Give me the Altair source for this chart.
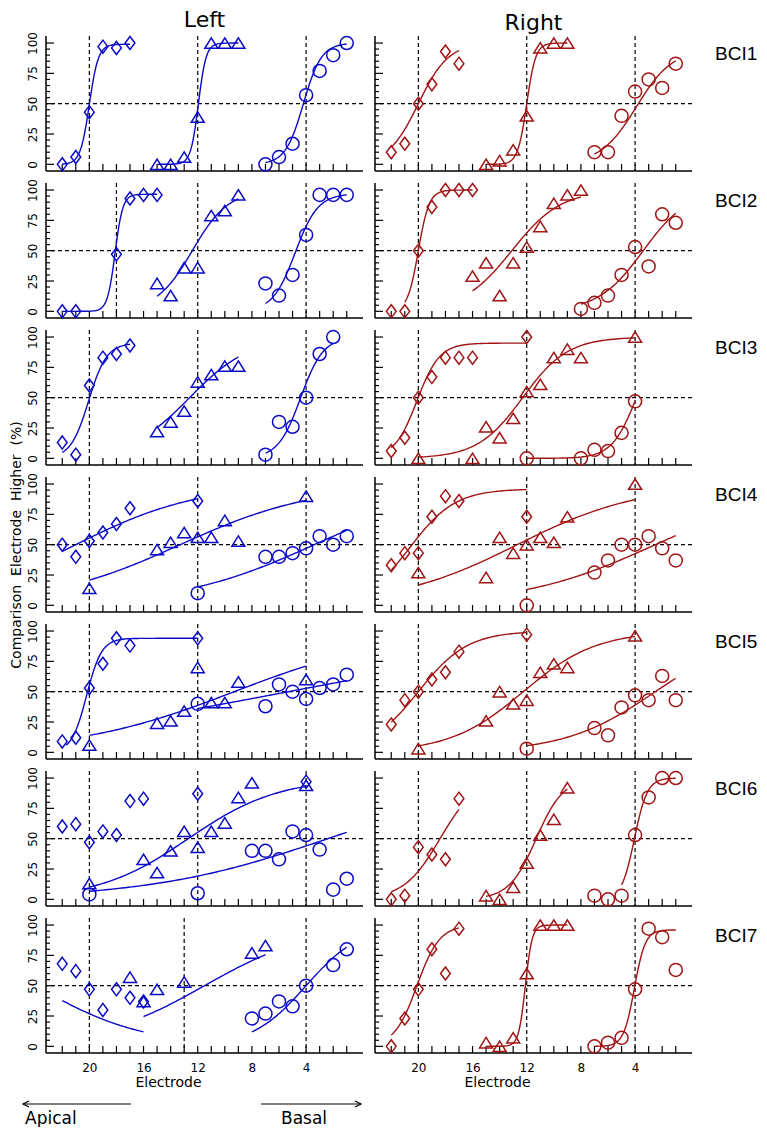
import altair as alt
import numpy as np
import pandas as pd

# ---------------- values ----------------
SUBJECTS = ["BCI1", "BCI2", "BCI3", "BCI4", "BCI5", "BCI6", "BCI7"]
SIDES = ["Left", "Right"]
X_TICKS = list(range(1, 23))
X_LABELS = [20, 16, 12, 8, 4]
Y_MINOR = [v for v in range(0, 101, 5) if v % 25]
Y_LABELS = [0, 25, 50, 75, 100]

# points: (electrode, % comparison electrode judged higher)
L1_DIA = [(22, 0), (21, 6), (20, 43), (19, 97), (18, 96), (17, 100)]
L1_TRI = [(15, 0), (14, 0), (13, 6), (12, 39), (11, 100), (10, 100), (9, 100)]
L1_CIR = [(7, 0), (6, 6), (5, 17), (4, 57), (3, 77), (2, 90), (1, 100)]
R1_DIA = [(22, 10), (21, 17), (20, 50), (19, 66), (18, 93), (17, 83)]
R1_TRI = [(15, 0), (14, 3), (13, 12), (12, 40), (11, 96), (10, 100), (9, 100)]
R1_CIR = [(7, 10), (6, 10), (5, 40), (4, 60), (3, 70), (2, 63), (1, 83)]

L2_DIA = [(22, 0), (21, 0), (18, 47), (17, 93), (16, 96), (15, 96)]
L2_TRI = [(15, 23), (14, 13), (13, 36), (12, 36), (11, 79), (10, 83), (9, 96)]
L2_CIR = [(7, 23), (6, 13), (5, 30), (4, 63), (3, 96), (2, 96), (1, 96)]
R2_DIA = [(22, 0), (21, 0), (20, 50), (19, 86), (18, 100), (17, 100), (16, 100)]
R2_TRI = [(16, 29), (15, 40), (14, 13), (13, 40), (12, 53), (11, 70), (10, 89), (9, 96), (8, 100)]
R2_CIR = [(8, 2), (7, 7), (6, 13), (5, 30), (4, 53), (3, 37), (2, 80), (1, 73)]

L3_DIA = [(22, 13), (21, 3), (20, 60), (19, 83), (18, 86), (17, 93)]
L3_TRI = [(15, 22), (14, 30), (13, 39), (12, 63), (11, 69), (10, 76), (9, 76)]
L3_CIR = [(7, 3), (6, 30), (5, 26), (4, 50), (3, 86), (2, 100)]
R3_DIA = [(22, 6), (21, 17), (20, 50), (19, 67), (18, 83), (17, 83), (16, 83), (12, 100)]
R3_TRI = [(20, 0), (16, 0), (15, 26), (14, 17), (13, 33), (12, 55), (11, 61), (10, 83), (9, 90), (8, 83), (4, 100)]
R3_CIR = [(12, 0), (8, 0), (7, 7), (6, 6), (5, 21), (4, 47)]

L4_DIA = [(22, 50), (21, 40), (20, 53), (19, 60), (18, 67), (17, 80), (12, 86)]
L4_TRI = [(20, 14), (15, 46), (14, 52), (13, 60), (12, 56), (11, 56), (10, 70), (9, 53), (4, 90)]
L4_CIR = [(12, 10), (7, 40), (6, 40), (5, 43), (4, 47), (3, 57), (2, 50), (1, 57)]
R4_DIA = [(22, 33), (21, 43), (20, 43), (19, 73), (18, 90), (17, 86), (12, 73)]
R4_TRI = [(20, 27), (15, 23), (14, 56), (13, 43), (12, 50), (11, 56), (10, 52), (9, 73), (4, 100)]
R4_CIR = [(12, 0), (7, 27), (6, 37), (5, 50), (4, 50), (3, 57), (2, 47), (1, 37)]

L5_DIA = [(22, 9), (21, 12), (20, 53), (19, 73), (18, 94), (17, 88), (12, 94)]
L5_TRI = [(20, 6), (15, 24), (14, 26), (13, 34), (12, 70), (11, 41), (10, 41), (9, 58), (4, 60)]
L5_CIR = [(12, 40), (7, 38), (6, 56), (5, 50), (4, 44), (3, 53), (2, 56), (1, 64)]
R5_DIA = [(22, 23), (21, 43), (20, 50), (19, 60), (18, 66), (17, 83), (12, 97)]
R5_TRI = [(20, 3), (15, 26), (14, 50), (13, 40), (12, 43), (11, 66), (10, 73), (9, 70), (4, 96)]
R5_CIR = [(12, 3), (7, 20), (6, 14), (5, 37), (4, 47), (3, 43), (2, 63), (1, 43)]

L6_DIA = [(22, 60), (21, 62), (20, 47), (19, 56), (18, 53), (17, 81), (16, 83), (12, 87), (4, 97)]
L6_TRI = [(20, 13), (16, 33), (15, 22), (14, 40), (13, 56), (12, 43), (11, 56), (10, 63), (9, 84), (8, 96), (4, 94)]
L6_CIR = [(20, 4), (12, 5), (8, 40), (7, 40), (6, 33), (5, 56), (4, 53), (3, 41), (2, 8), (1, 17)]
R6_DIA = [(22, 0), (21, 3), (20, 43), (19, 37), (18, 33), (17, 83)]
R6_TRI = [(15, 3), (14, 0), (13, 10), (12, 30), (11, 53), (10, 66), (9, 92)]
R6_CIR = [(7, 3), (6, 0), (5, 3), (4, 53), (3, 84), (2, 100), (1, 100)]

L7_DIA = [(22, 68), (21, 62), (20, 47), (19, 30), (18, 47), (17, 40), (16, 37)]
L7_TRI = [(17, 57), (16, 37), (15, 47), (13, 53), (8, 77), (7, 83)]
L7_CIR = [(8, 23), (7, 27), (6, 37), (5, 33), (4, 50), (2, 67), (1, 80)]
R7_DIA = [(22, 0), (21, 23), (20, 47), (19, 80), (18, 60), (17, 97)]
R7_TRI = [(15, 3), (14, 0), (13, 7), (12, 60), (11, 100), (10, 100), (9, 100)]
R7_CIR = [(7, 0), (6, 3), (5, 7), (4, 47), (3, 97), (2, 90), (1, 63)]

# fitted curves: (series, first electrode, last electrode, 50% point, slope, upper asymptote)
L1_FIT = [("D", 22, 17, 20.0, 3.0, 99), ("T", 15, 9, 11.95, 3.5, 100), ("C", 7, 1, 4.2, 1.5, 100)]
R1_FIT = [("D", 22, 17, 20.0, 0.9, 100), ("T", 15, 9, 12.0, 3.0, 100), ("C", 7, 1, 3.9, 0.75, 95)]
L2_FIT = [("D", 22, 15, 18.1, 3.5, 96.5), ("T", 15, 9, 12.4, 0.75, 100), ("C", 7, 1, 4.8, 1.2, 97)]
R2_FIT = [("D", 21, 16, 20.0, 2.5, 100), ("T", 16, 8, 13.1, 0.55, 100), ("C", 8, 1, 3.4, 0.6, 100)]
L3_FIT = [("D", 22, 17, 20.05, 1.5, 95), ("T", 15, 9, 12.6, 0.45, 100), ("C", 7, 2, 4.4, 1.2, 100)]
R3_FIT = [("D", 22, 12, 20.1, 1.2, 95), ("T", 20, 4, 12.3, 0.6, 100), ("C", 12, 4, 3.9, 1.1, 100)]
L4_FIT = [("D", 22, 12, 21.0, 0.22, 100), ("T", 20, 4, 13.3, 0.2, 100), ("C", 12, 1, 3.4, 0.2, 100)]
R4_FIT = [("D", 22, 12, 20.6, 0.6, 96), ("T", 20, 4, 12.7, 0.22, 100), ("C", 12, 1, 2.5, 0.2, 100)]
L5_FIT = [("D", 21.7, 12, 20.2, 1.8, 94), ("T", 20, 4, 9.3, 0.17, 100), ("C", 12, 1, 5.3, 0.085, 100)]
R5_FIT = [("D", 22, 12, 20.0, 0.55, 100), ("T", 20, 4, 12.25, 0.37, 100), ("C", 12, 1, 2.5, 0.3, 100)]
L6_FIT = [("T", 20, 4, 12.7, 0.3, 100), ("C", 20, 1, 2.4, 0.15, 100)]
R6_FIT = [("D", 22, 17, 18.4, 0.75, 100), ("T", 15, 9, 11.3, 1.0, 100), ("C", 5, 1, 4.05, 2.1, 100)]
L7_FIT = [("D", 22, 16, 24.0, -0.25, 100), ("T", 16, 7, 11.5, 0.25, 100), ("C", 8, 1, 4.0, 0.5, 100)]
R7_FIT = [("D", 22, 17, 20.1, 1.2, 100), ("T", 15, 9, 12.1, 4.0, 100), ("C", 7, 1, 4.05, 2.5, 96)]

# standard electrodes (dashed verticals)
L_STD = [[20, 12, 4], [18, 12, 4], [20, 12, 4], [20, 12, 4], [20, 12, 4], [20, 12, 4], [20, 13, 4]]
R_STD = [[20, 12, 4], [20, 12, 4], [20, 12, 4], [20, 12, 4], [20, 12, 4], [20, 12, 4], [20, 12, 4]]

PANELS = {
    ("Left", 0): (L1_DIA, L1_TRI, L1_CIR, L1_FIT), ("Right", 0): (R1_DIA, R1_TRI, R1_CIR, R1_FIT),
    ("Left", 1): (L2_DIA, L2_TRI, L2_CIR, L2_FIT), ("Right", 1): (R2_DIA, R2_TRI, R2_CIR, R2_FIT),
    ("Left", 2): (L3_DIA, L3_TRI, L3_CIR, L3_FIT), ("Right", 2): (R3_DIA, R3_TRI, R3_CIR, R3_FIT),
    ("Left", 3): (L4_DIA, L4_TRI, L4_CIR, L4_FIT), ("Right", 3): (R4_DIA, R4_TRI, R4_CIR, R4_FIT),
    ("Left", 4): (L5_DIA, L5_TRI, L5_CIR, L5_FIT), ("Right", 4): (R5_DIA, R5_TRI, R5_CIR, R5_FIT),
    ("Left", 5): (L6_DIA, L6_TRI, L6_CIR, L6_FIT), ("Right", 5): (R6_DIA, R6_TRI, R6_CIR, R6_FIT),
    ("Left", 6): (L7_DIA, L7_TRI, L7_CIR, L7_FIT), ("Right", 6): (R7_DIA, R7_TRI, R7_CIR, R7_FIT),
}

# ---------------- styling ----------------
W, H = 317, 135
XDOM = [23.2, -0.2]
YDOM = [-5.5, 105.8]
COLORS = {"Left": "#0a0ac8", "Right": "#a01414"}
FONT = "DejaVu Sans"
DIAMOND = "M0,-1L0.75,0L0,1L-0.75,0Z"
TRIANGLE = "M0,-0.8L1,0.8L-1,0.8Z"
NB = "\u00a0\u00a0"
YTITLE = "Comparison" + NB + "Electrode" + NB + "Higher" + NB + "(%)"


def curve_frame(fits):
    rows = []
    for shape, e0, e1, c, k, hi in fits:
        es = np.linspace(e0, e1, 80)
        vs = hi / (1.0 + np.exp(-k * (c - es)))
        for j, (e, v) in enumerate(zip(es, vs)):
            rows.append({"e": float(e), "v": float(v), "shape": shape, "o": j})
    return pd.DataFrame(rows)


def point_frame(dia, tri, cir):
    rows = []
    for shape, pts in (("D", dia), ("T", tri), ("C", cir)):
        for e, v in pts:
            rows.append({"e": e, "v": v, "shape": shape})
    return pd.DataFrame(rows)


def panel(side, i):
    color = COLORS[side]
    is_left = side == "Left"
    is_bottom = i == len(SUBJECTS) - 1
    dia, tri, cir, fits = PANELS[(side, i)]
    stds = L_STD[i] if is_left else R_STD[i]

    xsc = alt.Scale(domain=XDOM, nice=False, zero=False)
    ysc = alt.Scale(domain=YDOM, nice=False, zero=False)
    one = pd.DataFrame({"a": [0]})

    if is_bottom:
        x_axis = alt.Axis(orient="bottom", values=X_LABELS, ticks=False, domain=False,
                          grid=False, labelFontSize=12, labelPadding=9, labelFlush=False,
                          labelColor="black", title="Electrode", titleFontSize=14,
                          titleFontWeight="normal", titlePadding=2, titleColor="black",
                          titleX=122)
    else:
        x_axis = None
    if is_left:
        y_kw = dict(orient="left", values=Y_LABELS, ticks=False, domain=False,
                    grid=False, labelAngle=270, labelAlign="center", labelBaseline="bottom",
                    labelFontSize=12, labelPadding=7, labelFlush=False, labelColor="black")
        if i == 3:
            y_kw.update(title=YTITLE, titleFontSize=14, titleFontWeight="normal",
                        titlePadding=3, titleColor="black")
        else:
            y_kw.update(title=None)
        y_axis = alt.Axis(**y_kw)
    else:
        y_axis = None

    X = lambda: alt.X("e:Q", scale=xsc, axis=x_axis)
    Y = lambda: alt.Y("v:Q", scale=ysc, axis=y_axis)

    # axis lines and inward ticks
    yline = alt.Chart(one).mark_rule(color="black", strokeWidth=1.5).encode(
        x=alt.value(0), y=alt.value(0), y2=alt.value(H))
    xline = alt.Chart(one).mark_rule(color="black", strokeWidth=1.5).encode(
        x=alt.value(0), x2=alt.value(W), y=alt.value(H))
    xticks = alt.Chart(pd.DataFrame({"e": X_TICKS})).mark_tick(
        orient="vertical", size=7, thickness=1.2, color="black", opacity=1
    ).encode(x=X(), y=alt.value(H - 3.5))
    ymaj = alt.Chart(pd.DataFrame({"v": Y_LABELS})).mark_tick(
        orient="horizontal", size=8, thickness=1.2, color="black", opacity=1
    ).encode(y=Y(), x=alt.value(4))
    ymin = alt.Chart(pd.DataFrame({"v": Y_MINOR})).mark_tick(
        orient="horizontal", size=4, thickness=1.2, color="black", opacity=1
    ).encode(y=Y(), x=alt.value(2))

    vlines = alt.Chart(pd.DataFrame({"e": stds})).mark_rule(
        color="black", strokeDash=[4, 3], strokeWidth=1.2
    ).encode(x=X())

    hline = alt.Chart(pd.DataFrame({"v": [50]})).mark_rule(
        color="black", strokeDash=[4, 3], strokeWidth=1.2
    ).encode(y=Y())

    curves = alt.Chart(curve_frame(fits)).mark_line(color=color, strokeWidth=1.4).encode(
        x=X(), y=Y(), detail="shape:N", order="o:Q",
    )

    points = alt.Chart(point_frame(dia, tri, cir)).mark_point(
        filled=False, size=170, strokeWidth=1.5, color=color, opacity=1
    ).encode(
        x=X(), y=Y(),
        shape=alt.Shape("shape:N", scale=alt.Scale(domain=["D", "T", "C"],
                                                   range=[DIAMOND, TRIANGLE, "circle"]),
                        legend=None),
    )

    layers = [yline, xline, xticks, ymaj, ymin, vlines, hline, curves, points]

    if not is_left:
        lab = alt.Chart(pd.DataFrame({"t": [SUBJECTS[i]]})).mark_text(
            align="left", baseline="middle", fontSize=19, font="Liberation Sans", color="black"
        ).encode(x=alt.value(W + 23), y=alt.value(18), text="t:N")
        layers.append(lab)

    if is_left and is_bottom:
        ay = H + 51
        arr1 = alt.Chart(one).mark_rule(color="black", strokeWidth=1.2).encode(
            x=alt.value(-23), x2=alt.value(85), y=alt.value(ay))
        arr2 = alt.Chart(one).mark_rule(color="black", strokeWidth=1.2).encode(
            x=alt.value(215), x2=alt.value(315), y=alt.value(ay))
        head1 = alt.Chart(one).mark_point(shape="M1.2,-0.6L0,0L1.2,0.6", size=100, filled=False,
                                          color="black", strokeWidth=1.2, opacity=1).encode(
            x=alt.value(-23), y=alt.value(ay))
        head2 = alt.Chart(one).mark_point(shape="M-1.2,-0.6L0,0L-1.2,0.6", size=100, filled=False,
                                          color="black", strokeWidth=1.2, opacity=1).encode(
            x=alt.value(315), y=alt.value(ay))
        t1 = alt.Chart(pd.DataFrame({"t": ["Apical"]})).mark_text(
            align="left", baseline="middle", fontSize=17, font=FONT, color="black"
        ).encode(x=alt.value(-21), y=alt.value(H + 66), text="t:N")
        t2 = alt.Chart(pd.DataFrame({"t": ["Basal"]})).mark_text(
            align="left", baseline="middle", fontSize=17, font=FONT, color="black"
        ).encode(x=alt.value(235), y=alt.value(H + 66), text="t:N")
        layers += [arr1, arr2, head1, head2, t1, t2]

    ch = alt.layer(*layers).properties(width=W, height=H)
    if i == 0:
        ch = ch.properties(title=alt.TitleParams(text=side, fontSize=22, font=FONT,
                                                 fontWeight="normal", anchor="middle",
                                                 offset=0, color="black"))
    return ch


cells = []
for i in range(len(SUBJECTS)):
    cells.append(panel("Left", i))
    cells.append(panel("Right", i))

chart = alt.concat(*cells, columns=2, spacing=12, bounds="flush").properties(
    padding=0
).configure_view(stroke=None).configure_axis(labelFont=FONT, titleFont=FONT)

chart.save("out.html", embed_options={"renderer": "svg", "actions": False})
